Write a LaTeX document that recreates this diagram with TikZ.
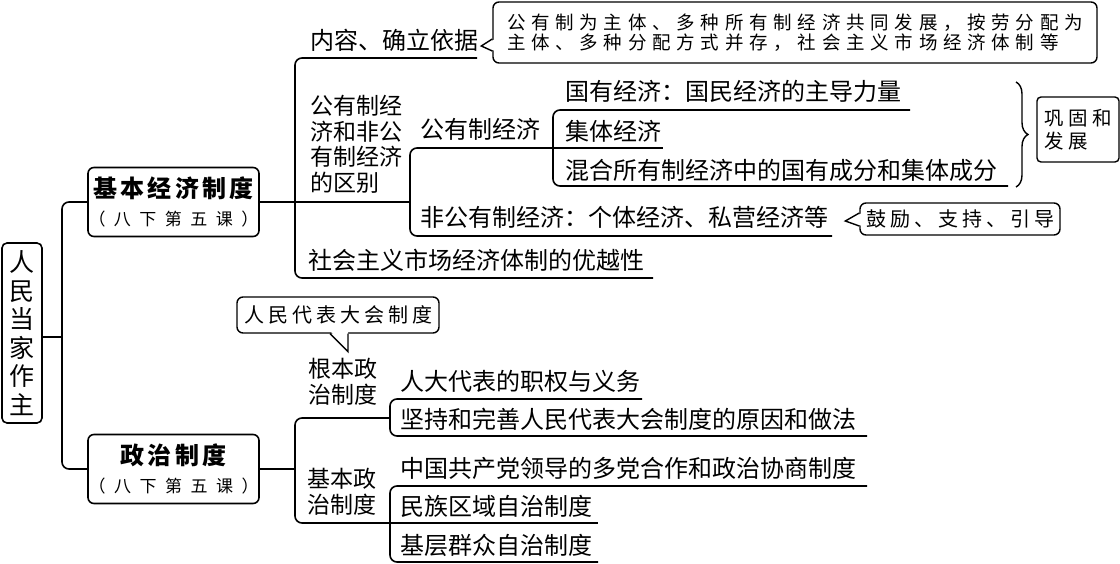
\documentclass[tikz,border=0pt]{standalone}
\usepackage{fontspec}
\setmainfont{Noto Sans CJK SC}
\usetikzlibrary{decorations.pathreplacing}
\newcommand{\lsp}[1]{\addfontfeature{LetterSpace=#1}}
\tikzset{
  tree/.style={line width=1.6pt, rounded corners=7pt},
  item/.style={anchor=base west, inner sep=0pt, font=\fontsize{24}{24}\selectfont},
  multi/.style={anchor=north west, inner sep=0pt, align=left, font=\fontsize{23}{25.5}\selectfont},
  rootbox/.style={draw, line width=1.6pt, rounded corners=5pt, minimum width=40pt, minimum height=180pt, inner sep=0pt, align=center, font=\fontsize{25}{28.5}\selectfont},
  mainbox/.style={draw, line width=1.6pt, rounded corners=6pt, minimum width=171pt, minimum height=69pt, inner sep=0pt, align=center, font=\fontsize{24}{28}\selectfont},
  callbox/.style={draw, line width=1.4pt, rounded corners=6pt, fill=white, inner sep=0pt, align=left},
  tail/.style={line width=1.4pt, line join=miter},
}
\begin{document}
\begin{tikzpicture}[x=1pt,y=-1pt]
\useasboundingbox (0,0) rectangle (1120,564);

% ---------- main nodes
\node[rootbox] (root) at (22,333) {人\\民\\当\\家\\作\\主};
\node[mainbox] (box1) at (173.5,202) {{\bfseries\lsp{13}基本经济制度}\\{\fontsize{17}{28}\selectfont\lsp{50}（八下第五课）}};
\node[mainbox] (box2) at (173.5,469) {{\bfseries\lsp{13}政治制度}\\{\fontsize{17}{28}\selectfont\lsp{50}（八下第五课）}};

% ---------- coordinates of the tree
\coordinate (G-top) at (62,202);
\coordinate (G-bot) at (62,469);
\coordinate (A-top) at (295,58);
\coordinate (A-bot) at (295,278);
\coordinate (neirong-e) at (477,58);
\coordinate (qubie-e) at (410,202);
\coordinate (youyue-e) at (653,278);
\coordinate (B-top) at (410,148);
\coordinate (B-bot) at (410,236);
\coordinate (gongyou-e) at (553,148);
\coordinate (feigong-e) at (832,236);
\coordinate (C-top) at (553,110);
\coordinate (C-bot) at (553,186);
\coordinate (guoyou-e) at (910,110);
\coordinate (jiti-e) at (663,148);
\coordinate (hunhe-e) at (1008,186);
\coordinate (D-top) at (295,418);
\coordinate (D-bot) at (295,523);
\coordinate (genben-e) at (390,418);
\coordinate (jiben-e) at (390,523);
\coordinate (E-top) at (390,399);
\coordinate (E-bot) at (390,436);
\coordinate (rendai-e) at (642,399);
\coordinate (jianchi-e) at (867,436);
\coordinate (F-top) at (390,486);
\coordinate (F-bot) at (390,562);
\coordinate (zhongguo-e) at (867,486);
\coordinate (minzu-e) at (598,523);
\coordinate (jiceng-e) at (598,562);

% ---------- connectors
\draw[tree] ([yshift=-4pt]root.east) -- ([yshift=-4pt]root.east -| G-top);
\draw[tree] (box1.west) -- (G-top) -- (G-bot) -- (box2.west);
\draw[tree] (neirong-e) -- (A-top) -- (A-bot) -- (youyue-e);
\draw[tree] (box1.east) -- (qubie-e);
\draw[tree] (gongyou-e) -- (B-top) -- (B-bot) -- (feigong-e);
\draw[tree] (guoyou-e) -- (C-top) -- (C-bot) -- (hunhe-e);
\draw[tree] (gongyou-e) -- (jiti-e);
\draw[tree] (box2.east) -- (box2.east -| D-top);
\draw[tree] (genben-e) -- (D-top) -- (D-bot) -- (jiben-e);
\draw[tree] (rendai-e) -- (E-top) -- (E-bot) -- (jianchi-e);
\draw[tree] (zhongguo-e) -- (F-top) -- (F-bot) -- (jiceng-e);
\draw[tree] (jiben-e) -- (minzu-e);

% ---------- texts
\node[item] (neirong) at (310,50) {内容、确立依据};
\node[multi] (qubie) at (310,95) {公有制经\\济和非公\\有制经济\\的区别};
\node[item] (youyue) at (308,270) {社会主义市场经济体制的优越性};
\node[item] (gongyou) at (420,139) {公有制经济};
\node[item] (feigong) at (420,227) {非公有制经济：个体经济、私营经济等};
\node[item] (guoyou) at (565,101) {国有经济：国民经济的主导力量};
\node[item] (jiti) at (565,141) {集体经济};
\node[item] (hunhe) at (565,180) {混合所有制经济中的国有成分和集体成分};
\node[multi] (genben) at (308,358) {根本政\\治制度};
\node[multi] (jiben) at (307,468) {基本政\\治制度};
\node[item] (rendai) at (400,390) {人大代表的职权与义务};
\node[item] (jianchi) at (400,428) {坚持和完善人民代表大会制度的原因和做法};
\node[item] (zhongguo) at (400,477) {中国共产党领导的多党合作和政治协商制度};
\node[item] (minzu) at (400,515) {民族区域自治制度};
\node[item] (jiceng) at (400,554) {基层群众自治制度};

% ---------- brace
\draw[line width=1.4pt, decorate, decoration={brace, amplitude=12pt}] (1016,82) -- (1016,187);

% ---------- callouts
\node[callbox, minimum width=604pt, minimum height=61pt, font=\fontsize{18.5}{20}\selectfont] (c1) at (795,32.5)
  {\lsp{31}公有制为主体、多种所有制经济共同发展，按劳分配为\\\lsp{31}主体、多种分配方式并存，社会主义市场经济体制等};
\fill[white] ([yshift=-6.5pt,xshift=3pt]c1.west) -- ([xshift=-11pt,yshift=-13.5pt]c1.west) -- ([yshift=-18.5pt,xshift=3pt]c1.west) -- cycle;
\draw[tail] ([yshift=-6.5pt]c1.west) -- ([xshift=-11pt,yshift=-13.5pt]c1.west) -- ([yshift=-18.5pt]c1.west);

\node[callbox, minimum width=82pt, minimum height=65pt, rounded corners=4pt, font=\fontsize{19.5}{23}\selectfont] (c2) at (1078,129.5)
  {\lsp{23}巩固和\\\lsp{23}发展};

\node[callbox, minimum width=200pt, minimum height=32pt, font=\fontsize{20}{20}\selectfont] (c3) at (960,219)
  {\lsp{20}鼓励、支持、引导};
\fill[white] ([yshift=6pt,xshift=3pt]c3.west) -- ([xshift=-14pt,yshift=-2pt]c3.west) -- ([yshift=-7pt,xshift=3pt]c3.west) -- cycle;
\draw[tail] ([yshift=6pt]c3.west) -- ([xshift=-14pt,yshift=-2pt]c3.west) -- ([yshift=-7pt]c3.west);

\node[callbox, minimum width=202pt, minimum height=36pt, font=\fontsize{20}{20}\selectfont] (c4) at (338,315)
  {\lsp{20}人民代表大会制度};
\fill[white] ([xshift=-8pt,yshift=3pt]c4.south) -- ([xshift=10pt,yshift=-18pt]c4.south) -- ([xshift=10pt,yshift=3pt]c4.south) -- cycle;
\draw[tail] ([xshift=-8pt]c4.south) -- ([xshift=10pt,yshift=-18pt]c4.south) -- ([xshift=10pt]c4.south);
\end{tikzpicture}
\end{document}
